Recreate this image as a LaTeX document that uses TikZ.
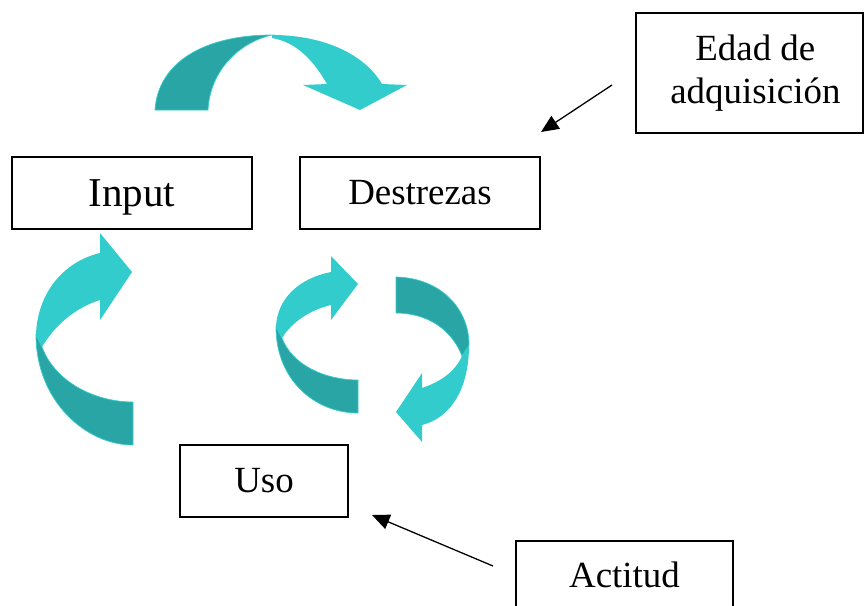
\documentclass[tikz,border=0pt]{standalone}
\usepackage{fontspec}
\setmainfont{Liberation Serif}
\usetikzlibrary{arrows.meta,positioning}
\definecolor{Aqua}{HTML}{33CCCC}
\definecolor{DeepAqua}{HTML}{2AA5A5}
\tikzset{
  >={Triangle[length=15pt,width=13pt]},
  box/.style={draw=black,line width=.9pt,inner sep=0pt,minimum height=2.16cm,font=\fontsize{31.5}{37}\selectfont,align=center},
  front/.style={fill=Aqua,draw=none},
  back/.style={fill=DeepAqua,draw=Aqua,line width=.6pt},
  pointer/.style={->,line width=1.1pt,draw=black}
}
\begin{document}
\begin{tikzpicture}[x=.03cm,y=-.03cm]
  \clip (0,0) rectangle (865,605);
  % boxes
  \node[box,minimum width=7.2cm,font=\fontsize{35}{40}\selectfont,text depth=0pt] (input) at (132,193) {Input};
  \node[box,minimum width=7.2cm] (destrezas) at (420,193) {Destrezas};
  \node[box,minimum width=5.04cm] (uso) at (264,481) {Uso};
  \node[box,minimum width=6.81cm,minimum height=3.6cm] (edad) at (749.5,73) {\hspace*{10pt}Edad de\\\hspace*{10pt}adquisición};
  \node[box,minimum width=6.51cm,minimum height=2.04cm] (actitud) at (624.5,575) {Actitud};
  % pointers
  \coordinate (e1) at (612,85); \coordinate (e2) at (541,132);
  \coordinate (a1) at (493,566); \coordinate (a2) at (372,515);
  \draw[pointer] (e1)--(e2);
  \draw[pointer] (a1)--(a2);
  % top arrow: input -> destrezas
  \path[back] (155,110) .. controls (158,62) and (205,35) .. (272,35) .. controls (240,42) and (210,70) .. (208,110) -- cycle;
  \path[front] (272,35) .. controls (325,35) and (365,55) .. (382,84) -- (407,85) -- (360,110) -- (303,85) -- (327,84) .. controls (312,58) and (295,42) .. (272,38) -- cycle;
  % left arrow: uso -> input
  \path[front] (100,233) -- (132,272) -- (100,320) -- (100,300) .. controls (75,308) and (55,325) .. (42,347) -- (36,335) .. controls (37,295) and (62,262) .. (100,253) -- cycle;
  \path[back] (36,335) .. controls (36,400) and (85,445) .. (133,445) -- (133,402) .. controls (95,402) and (55,382) .. (42,347) -- cycle;
  % cycle pair under destrezas
  \path[front] (331,256) -- (358,284) -- (331,320) -- (331,305) .. controls (310,310) and (292,322) .. (282,338) -- (276,327) .. controls (277,298) and (300,278) .. (331,272) -- cycle;
  \path[back] (276,327) .. controls (276,380) and (315,413) .. (358,413) -- (358,380) .. controls (325,380) and (292,365) .. (282,338) -- cycle;
  \path[back] (396,277) .. controls (440,278) and (469,308) .. (469,345) -- (462,356) .. controls (452,330) and (428,313) .. (396,313) -- cycle;
  \path[front] (469,345) .. controls (469,390) and (450,418) .. (422,425) -- (422,442) -- (396,412) -- (422,373) -- (422,388) .. controls (440,382) and (455,372) .. (462,356) -- cycle;
\end{tikzpicture}
\end{document}
